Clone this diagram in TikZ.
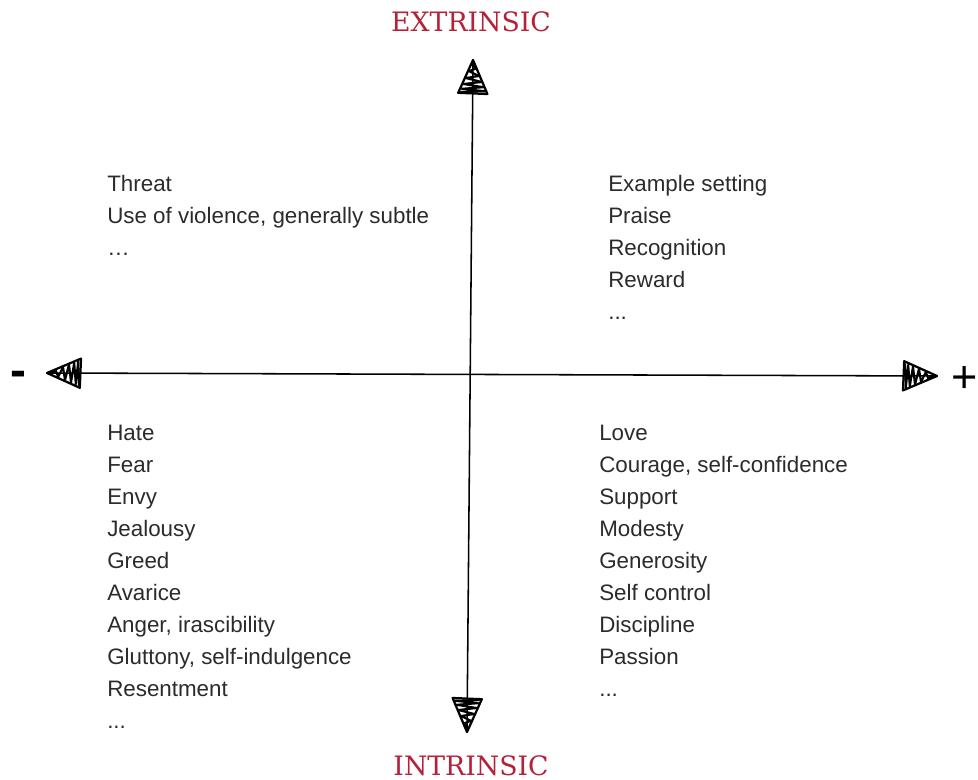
\documentclass[tikz,border=0pt]{standalone}
\usepackage{fontspec}
\setmainfont{Liberation Sans}
\newfontfamily\axisfont{DejaVu Serif}
\definecolor{axisred}{HTML}{B52138}
\definecolor{itemgray}{HTML}{2B2B2B}

\begin{document}
\begin{tikzpicture}[x=0.025cm,y=-0.025cm,
line join=round, line cap=round,
axis/.style={line width=1.1pt, black},
item/.style={anchor=base west, inner sep=0pt, text=itemgray, font=\fontsize{15.9}{18}\selectfont},
axislabel/.style={anchor=base, inner sep=0pt, text=axisred, font=\axisfont\fontsize{19}{22}\selectfont},
every node/.style={scale=1.0}]
\tikzstyle{tip} = [line width=1.6pt, black]
\tikzstyle{sign} = [inner sep=0pt, font=\fontsize{32}{32}\selectfont]

\useasboundingbox (0,0) rectangle (978,780);

% ends of the two axes
\coordinate (top) at (473,60);
\coordinate (bottom) at (467,732);
\coordinate (left) at (47,373);
\coordinate (right) at (937,376);

\draw[axis] (left) -- (right);
\draw[axis] (bottom) -- (top);

% hand drawn arrow tips
\foreach \p/\a in {top/90, bottom/270, left/180, right/0}{
	\begin{scope}[shift={(\p)}, rotate=\a]
	\draw[tip] (0,0) -- (-0.82cm,0.37cm) -- (-0.85cm,-0.36cm) -- cycle;
	\draw[tip, line width=1.5pt] (-0.8cm,0.3cm) -- (-0.78cm,-0.3cm) -- (-0.72cm,0.28cm)
		-- (-0.68cm,-0.26cm) -- (-0.6cm,0.24cm) -- (-0.55cm,-0.22cm) -- (-0.45cm,0.18cm)
		-- (-0.4cm,-0.15cm) -- (-0.28cm,0.1cm) -- (-0.22cm,-0.06cm) -- (-0.1cm,0.02cm);
	\end{scope}
}

\node[axislabel] (ext) at (471,32) {EXTRINSIC};
\node[axislabel] (int) at (471,775) {INTRINSIC};
\node[sign, font=\bfseries\fontsize{34}{34}\selectfont] (minus) at (18,379) {-};
\node[sign] (plus) at (965,380) {+};

% quadrant lists (dots written as .{}.{}. so foreach does not expand them)
\foreach \t [count=\i from 0] in {Threat, {Use of violence, generally subtle}, \dots}
	\node[item] (tl\i) at (107,192+32*\i) {\t};

\foreach \t [count=\i from 0] in {Example setting, Praise, Recognition, Reward, {.{}.{}.}}
	\node[item] (tr\i) at (608,192+32*\i) {\t};

\foreach \t [count=\i from 0] in {Hate, Fear, Envy, Jealousy, Greed, Avarice,
	{Anger, irascibility}, {Gluttony, self-indulgence}, Resentment, {.{}.{}.}}
	\node[item] (bl\i) at (107,440+32*\i) {\t};

\foreach \t [count=\i from 0] in {Love, {Courage, self-confidence}, Support, Modesty,
	Generosity, Self control, Discipline, Passion, {.{}.{}.}}
	\node[item] (br\i) at (599,440+32*\i) {\t};

\end{tikzpicture}
\end{document}
